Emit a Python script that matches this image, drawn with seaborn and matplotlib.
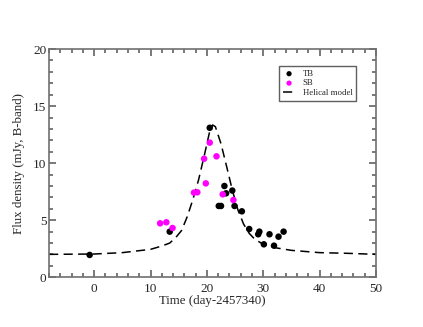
import pandas as pd
import matplotlib
matplotlib.use("Agg")
import matplotlib.pyplot as plt
import seaborn as sns
from matplotlib.ticker import MultipleLocator

# TB observations (black)
tb_time = [-0.8, 13.4, 20.5, 23.1, 23.4, 24.5, 22.1, 22.5, 24.9, 26.2, 27.5,
           29.1, 29.3, 30.1, 31.1, 31.9, 32.7, 33.6]
tb_flux = [1.96, 4.0, 13.1, 8.0, 7.36, 7.6, 6.25, 6.25, 6.25, 5.78, 4.23,
           3.77, 4.0, 2.89, 3.77, 2.77, 3.56, 4.0]

# SB observations (magenta)
sb_time = [11.7, 12.8, 13.9, 17.7, 18.3, 19.5, 19.8, 20.5, 21.7, 22.8, 24.7]
sb_flux = [4.73, 4.82, 4.32, 7.42, 7.45, 10.39, 8.23, 11.8, 10.6, 7.27, 6.77]

# helical model curve
model_time = [-8, 0, 5, 10, 12, 13.4, 14.5, 15.5, 16.5, 17.5, 18.5, 19.5, 20.5,
              21.0, 21.5, 22.5, 23.5, 24.5, 25.5, 26.5, 27.5, 28.5, 30, 32, 35,
              40, 45, 50]
model_flux = [2.01, 2.04, 2.16, 2.45, 2.74, 3.0, 3.5, 4.1, 5.3, 6.8, 8.5, 10.6,
              12.8, 13.35, 13.2, 11.7, 9.7, 7.65, 5.9, 4.67, 3.85, 3.33, 2.89,
              2.6, 2.36, 2.16, 2.1, 2.01]

sns.set_style("white")
plt.rcParams['font.family'] = ['Liberation Serif', 'DejaVu Serif']

fig = plt.figure(figsize=(4.23, 3.27), dpi=100)
ax = fig.add_axes([0.116, 0.152, 0.773, 0.698])

tb = pd.DataFrame({"t": tb_time, "f": tb_flux})
sb = pd.DataFrame({"t": sb_time, "f": sb_flux})
model = pd.DataFrame({"t": model_time, "f": model_flux})

sns.scatterplot(data=tb, x="t", y="f", color="black", s=22, edgecolor="none",
                label="TB", ax=ax, zorder=3)
sns.scatterplot(data=sb, x="t", y="f", color="#ff00ff", s=22, edgecolor="none",
                label="SB", ax=ax, zorder=3)
sns.lineplot(data=model, x="t", y="f", color="black", lw=1.1,
             linestyle=(0, (6, 3.5)), label="Helical model", ax=ax, zorder=2)

ax.set_xlim(-8, 50)
ax.set_ylim(0, 20)
ax.xaxis.set_major_locator(MultipleLocator(10))
ax.xaxis.set_minor_locator(MultipleLocator(2))
ax.yaxis.set_major_locator(MultipleLocator(5))
ax.yaxis.set_minor_locator(MultipleLocator(1))
ax.tick_params(which="both", direction="in", top=True, right=True,
               bottom=True, left=True, color="#555555", width=1.1,
               labelsize=9.5)
ax.tick_params(which="major", length=5)
ax.tick_params(which="minor", length=2.6)
ax.tick_params(axis="y", pad=2)
ax.tick_params(axis="x", pad=4)
for s in ax.spines.values():
    s.set_color("#707070")
    s.set_linewidth(1.2)

ax.set_xlabel("Time (day-2457340)", fontsize=9.3, labelpad=0)
ax.set_ylabel("Flux density (mJy, B-band)", fontsize=9.3, labelpad=6)

leg = ax.legend(loc="upper right", bbox_to_anchor=(0.94, 0.926), fontsize=6.3,
                frameon=True, fancybox=False, handlelength=1.3,
                handletextpad=0.9, borderpad=0.45, labelspacing=0.15,
                borderaxespad=0, markerscale=0.8)
leg.get_frame().set_edgecolor("#606060")
leg.get_frame().set_linewidth(1.0)
leg.get_frame().set_alpha(1)

fig.savefig("out.png", dpi=100)
